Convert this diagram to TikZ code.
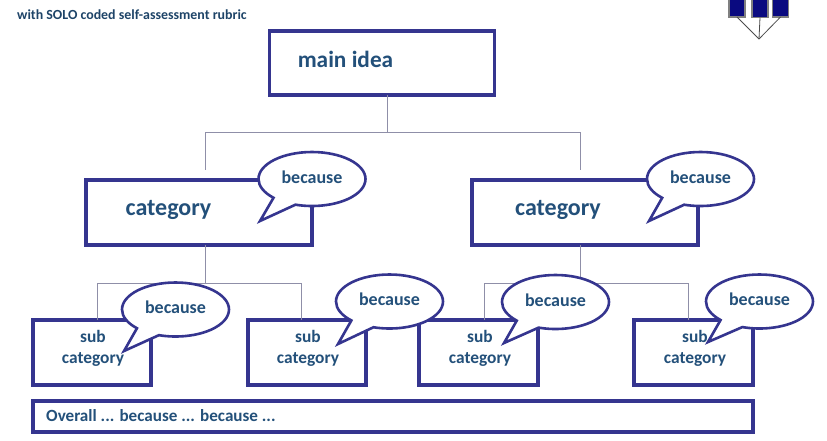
\documentclass[tikz,border=0pt]{standalone}
\usepackage{fontspec}
\setmainfont{Carlito}
\usetikzlibrary{shapes.callouts}
\definecolor{boxblue}{HTML}{35358F}
\definecolor{inkblue}{HTML}{23507A}
\definecolor{linegrey}{HTML}{8F8FA8}
\definecolor{logoblue}{HTML}{0A0A80}
\newcommand\becausetext{\raisebox{4pt}{because}\hspace{4pt}}
\tikzset{
  x=1pt,y=-1pt,
  boxnode/.style={draw=boxblue,line width=3.2pt,fill=white,inner sep=0pt,outer sep=0pt},
  label main/.style={text=inkblue,font=\bfseries\fontsize{23.3}{26}\selectfont,inner sep=0pt},
  label cat/.style={text=inkblue,font=\bfseries\fontsize{24}{28}\selectfont,inner sep=0pt},
  label sub/.style={text=inkblue,font=\bfseries\fontsize{17.4}{21}\selectfont,inner sep=0pt,align=center},
  bubble/.style={ellipse callout,draw=boxblue,line width=2.6pt,fill=white,inner sep=0pt,outer sep=0pt,
    minimum width=107pt,minimum height=54pt,callout pointer arc=28,
    text=inkblue,font=\bfseries\fontsize{18}{21}\selectfont},
  linkline/.style={draw=linegrey,line width=1pt},
  logobar/.style={draw=gray,line width=1.2pt,fill=logoblue,inner sep=0pt,outer sep=0pt,minimum width=16pt,minimum height=24pt},
  logoline/.style={draw=black!70,line width=0.8pt}
}
\begin{document}
\begin{tikzpicture}
\useasboundingbox (0,0) rectangle (827,440);
\fill[white] (0,0) rectangle (827,440);
\begin{scope}
\clip (0,0) rectangle (827,440);
% logo
\node[logobar] (bar1) at (737,5) {};
\node[logobar] (bar2) at (760,5.5) {};
\node[logobar] (bar3) at (780.5,5) {};
\coordinate (logotip) at (759,39);
\draw[logoline] (bar1.south) -- (logotip);
\draw[logoline] (bar2.south) -- (logotip);
\draw[logoline] (bar3.south) -- (logotip);
\end{scope}
\node[anchor=west,inner sep=0pt,text=inkblue!85!black,font=\bfseries\fontsize{13.9}{16}\selectfont] (subtitle) at (17,15) {with SOLO coded self-assessment rubric};
% boxes
\node[boxnode,minimum width=225pt,minimum height=64pt] (main) at (382,63) {};
\node[boxnode,minimum width=226pt,minimum height=65pt] (catL) at (199,212.5) {};
\node[boxnode,minimum width=226pt,minimum height=65pt] (catR) at (585,212.5) {};
\node[boxnode,minimum width=118pt,minimum height=65pt] (sub1) at (92,352.5) {};
\node[boxnode,minimum width=118pt,minimum height=65pt] (sub2) at (307,352.5) {};
\node[boxnode,minimum width=119pt,minimum height=65pt] (sub3) at (478.5,352.5) {};
\node[boxnode,minimum width=119pt,minimum height=65pt] (sub4) at (693.5,352.5) {};
\node[boxnode,minimum width=720pt,minimum height=31pt] (overall) at (393,416.5) {};
% connectors
\coordinate (mainstart) at (387,95);
\coordinate (mainjoin) at (387,132);
\coordinate (catLtop) at (205,170);
\coordinate (catRtop) at (580,170);
\draw[linkline] (mainstart) -- (mainjoin);
\draw[linkline] (mainjoin) -| (catLtop);
\draw[linkline] (mainjoin) -| (catRtop);
\coordinate (catLbot) at (205,245);
\coordinate (catLjoin) at (205,283);
\coordinate (sub1top) at (97,320);
\coordinate (sub2top) at (301,320);
\draw[linkline] (catLbot) -- (catLjoin);
\draw[linkline] (catLjoin) -| (sub1top);
\draw[linkline] (catLjoin) -| (sub2top);
\coordinate (catRbot) at (580,245);
\coordinate (catRjoin) at (580,283);
\coordinate (sub3top) at (484,320);
\coordinate (sub4top) at (688,320);
\draw[linkline] (catRbot) -- (catRjoin);
\draw[linkline] (catRjoin) -| (sub3top);
\draw[linkline] (catRjoin) -| (sub4top);
% bubbles
\node[bubble,callout absolute pointer={(260,221)}] (bub1) at (312,179) {\becausetext};
\node[bubble,callout absolute pointer={(649,221)}] (bub2) at (700.5,179) {\becausetext};
\node[bubble,callout absolute pointer={(124,351)}] (bub3) at (175.5,309.5) {\becausetext};
\node[bubble,callout absolute pointer={(338,344)}] (bub4) at (389.5,301.5) {\becausetext};
\node[bubble,callout absolute pointer={(504,343)}] (bub5) at (555.5,302) {\becausetext};
\node[bubble,callout absolute pointer={(708,342)}] (bub6) at (759.5,301.5) {\becausetext};
% box texts
\node[label main] (maintext) at (345.5,59) {main idea};
\node[label cat] (catLtext) at (168.5,210) {category};
\node[label cat] (catRtext) at (558,210) {category};
\node[label sub] (sub1text) at (93,348) {sub\\category};
\node[label sub] (sub2text) at (308,348) {sub\\category};
\node[label sub] (sub3text) at (480,348) {sub\\category};
\node[label sub] (sub4text) at (695,348) {sub\\category};
\node[text=inkblue,font=\bfseries\fontsize{17.1}{21}\selectfont,inner sep=0pt,anchor=west] (overalltext) at (46,416) {Overall ... because ... because ...};
\end{tikzpicture}
\end{document}
